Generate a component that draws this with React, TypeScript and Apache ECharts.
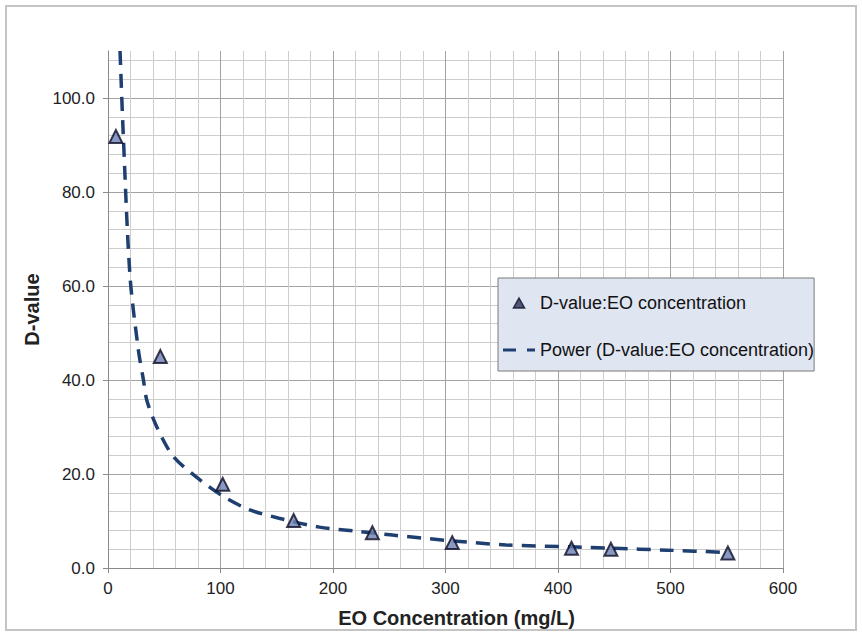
import React, { useEffect, useRef } from 'react';
import * as echarts from 'echarts';

// Measured data points (EO concentration in mg/L, D-value)
const concentration = [7, 46.5, 102, 165, 235, 306, 412, 447, 551];
const dValue = [91.8, 45, 17.8, 10.1, 7.5, 5.4, 4.2, 4.0, 3.2];

// Power trend line
const trendConcentration = [10.7, 13.6, 19.6, 27, 31.5, 34.5, 43.4, 58.2, 82, 102.7, 125.6, 152, 188, 218, 253, 300, 354, 412, 447, 497, 552];
const trendDValue = [110, 92, 62, 46.4, 40, 35.7, 30, 23.7, 18.7, 15.2, 12.4, 10.6, 8.7, 7.9, 7.0, 5.9, 4.9, 4.5, 4.2, 3.8, 3.3];

const seriesName = 'D-value:EO concentration';
const trendName = 'Power (D-value:EO concentration)';
const xTitle = 'EO Concentration (mg/L)';
const yTitle = 'D-value';

const FONT = 'Liberation Sans, Arial, sans-serif';

export default function App() {
  const ref = useRef<HTMLDivElement>(null);
  useEffect(() => {
    document.body.style.margin = '0';
    const chart = echarts.init(ref.current!, null, { renderer: 'svg' });
    const scatterData = concentration.map((c, i) => [c, dValue[i]]);
    const trendData = trendConcentration.map((c, i) => [c, trendDValue[i]]);
    chart.setOption({
      animation: false,
      backgroundColor: '#ffffff',
      textStyle: { fontFamily: FONT },
      graphic: [
        {
          type: 'rect',
          shape: { x: 6, y: 6, width: 850, height: 624 },
          style: { fill: 'none', stroke: '#c4c4c4', lineWidth: 2 },
          z: -10,
          silent: true,
        },
      ],
      grid: { left: 108, right: 79, top: 51, bottom: 65, containLabel: false },
      xAxis: [
        {
          type: 'value', position: 'bottom', min: 0, max: 600, interval: 20,
          axisLine: { show: false }, axisTick: { show: false }, axisLabel: { show: false },
          splitLine: { show: true, lineStyle: { color: '#cdcdcd', width: 1 } },
        },
        {
          type: 'value', position: 'bottom', min: 0, max: 600, interval: 100,
          axisLine: { show: true, lineStyle: { color: '#8a8a8a', width: 1 } },
          axisTick: { show: true, length: 5, lineStyle: { color: '#8a8a8a' } },
          axisLabel: { fontSize: 17, color: '#222', margin: 12, fontFamily: FONT },
          splitLine: { show: true, lineStyle: { color: '#a2a2a2', width: 1 } },
          name: xTitle, nameLocation: 'middle', nameGap: 40,
          nameTextStyle: { fontSize: 20, fontWeight: 'bold', color: '#222', fontFamily: FONT, padding: [0, 0, 0, 22] },
        },
      ],
      yAxis: [
        {
          type: 'value', position: 'left', min: 0, max: 110, interval: 4,
          axisLine: { show: false }, axisTick: { show: false }, axisLabel: { show: false },
          splitLine: { show: true, showMaxLine: false, lineStyle: { color: '#cdcdcd', width: 1 } },
        },
        {
          type: 'value', position: 'left', min: 0, max: 110, interval: 20,
          axisLine: { show: true, lineStyle: { color: '#8a8a8a', width: 1 } },
          axisTick: { show: true, length: 5, lineStyle: { color: '#8a8a8a' } },
          axisLabel: {
            fontSize: 17, color: '#222', margin: 13, fontFamily: FONT, showMaxLabel: false,
            formatter: (v: number) => (v > 100 ? '' : v.toFixed(1)),
          },
          splitLine: { show: true, showMaxLine: false, lineStyle: { color: '#a2a2a2', width: 1 } },
          name: yTitle, nameLocation: 'middle', nameGap: 60,
          nameTextStyle: { fontSize: 20, fontWeight: 'bold', color: '#222', fontFamily: FONT },
        },
      ],
      legend: {
        orient: 'vertical',
        left: 498,
        top: 278,
        padding: [16, 0, 12, 5],
        itemGap: 29,
        itemWidth: 32,
        itemHeight: 10,
        symbolKeepAspect: true,
        backgroundColor: '#dfe5f1',
        borderColor: '#7a7a7a',
        borderWidth: 1,
        borderRadius: 0,
        textStyle: { fontSize: 18, color: '#111', fontFamily: FONT },
        data: [
          {
            name: seriesName,
            icon: 'path://M5,0L10,9L0,9Z',
            itemStyle: { color: '#2a3358', borderColor: '#0d0d26', borderWidth: 1.5 },
          },
          {
            name: trendName,
            icon: 'path://M0,0H13V3H0Z M24,0H32V3H24Z',
            itemStyle: { color: '#1f3f70', borderWidth: 0 },
          },
        ],
      },
      series: [
        {
          name: trendName,
          type: 'line',
          xAxisIndex: 1,
          yAxisIndex: 1,
          data: trendData,
          smooth: 0.3,
          symbol: 'none',
          showSymbol: false,
          clip: true,
          lineStyle: { color: '#1f3f70', width: 3.5, type: [14, 9] },
          itemStyle: { color: '#1f3f70' },
          z: 2,
        },
        {
          name: seriesName,
          type: 'scatter',
          xAxisIndex: 1,
          yAxisIndex: 1,
          data: scatterData,
          symbol: 'triangle',
          symbolSize: 13,
          itemStyle: { color: '#6b7fb3', borderColor: '#0d0d26', borderWidth: 2 },
          z: 3,
        },
      ],
    });
    return () => chart.dispose();
  }, []);
  return <div ref={ref} style={{ width: 862, height: 633 }} />;
}
